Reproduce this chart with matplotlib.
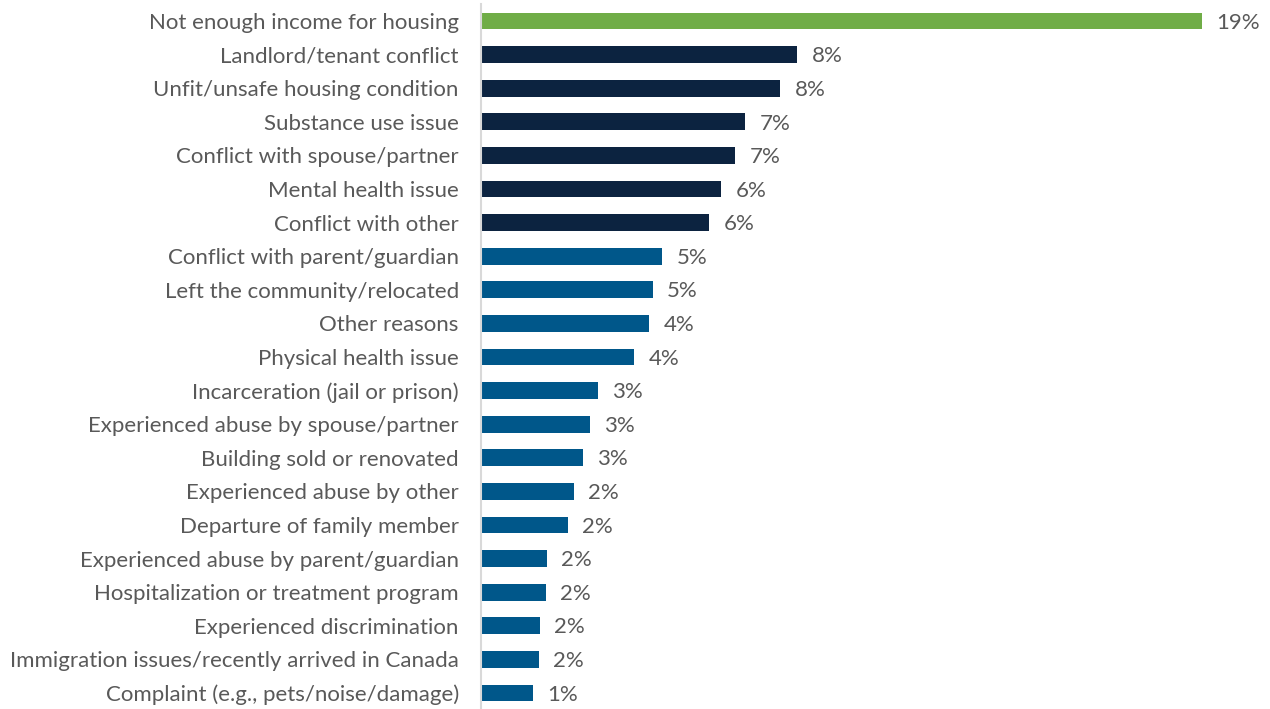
import matplotlib.pyplot as plt

# Reasons for most recent housing loss (share of respondents, %)
reasons = [
    "Not enough income for housing",
    "Landlord/tenant conflict",
    "Unfit/unsafe housing condition",
    "Substance use issue",
    "Conflict with spouse/partner",
    "Mental health issue",
    "Conflict with other",
    "Conflict with parent/guardian",
    "Left the community/relocated",
    "Other reasons",
    "Physical health issue",
    "Incarceration (jail or prison)",
    "Experienced abuse by spouse/partner",
    "Building sold or renovated",
    "Experienced abuse by other",
    "Departure of family member",
    "Experienced abuse by parent/guardian",
    "Hospitalization or treatment program",
    "Experienced discrimination",
    "Immigration issues/recently arrived in Canada",
    "Complaint (e.g., pets/noise/damage)",
]
shares = [19.0, 8.33, 7.88, 6.96, 6.69, 6.32, 6.01, 4.77, 4.52, 4.43, 4.03,
          3.08, 2.87, 2.69, 2.45, 2.29, 1.74, 1.71, 1.55, 1.52, 1.37]
groups = ["top"] + ["major"] * 6 + ["other"] * 14

GROUP_COLORS = {"top": "#70AD47", "major": "#0C2340", "other": "#00578A"}
TEXT_COLOR = "#595959"

plt.rcParams['font.family'] = ['Lato', 'DejaVu Sans']

fig = plt.figure(figsize=(12.7, 7.09), dpi=100)
ax = fig.add_axes([481 / 1270, -0.001, 778 / 1270, 0.995])

ypos = list(range(len(reasons)))
colors = [GROUP_COLORS[g] for g in groups]
ax.barh(ypos, shares, height=0.5, color=colors)

for y, v in zip(ypos, shares):
    ax.text(v + 0.38, y + 0.05, f"{v:.0f}%", va='center', ha='left',
            fontsize=16, color=TEXT_COLOR)

ax.set_yticks(ypos)
ax.set_yticklabels(reasons, fontsize=16, color=TEXT_COLOR)
ax.tick_params(axis='y', length=0, pad=16)
ax.set_xticks([])
ax.set_xlim(0, 20.5)
ax.set_ylim(len(reasons) - 0.5, -0.5)

for side in ['top', 'right', 'bottom']:
    ax.spines[side].set_visible(False)
ax.spines['left'].set_color('#D9D9D9')
ax.spines['left'].set_linewidth(1.5)

fig.savefig('out.png', dpi=100, facecolor='white')
